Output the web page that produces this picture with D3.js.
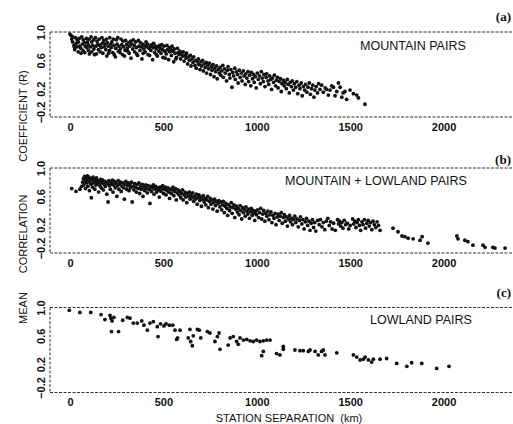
<!DOCTYPE html>
<html>
<head>
<meta charset="utf-8">
<script src="https://cdn.jsdelivr.net/npm/d3@7"></script>
<style>
    body { margin: 0; background: #fff; }
    svg { display: block; }
    text { font-family: "Liberation Sans", Arial, Helvetica, sans-serif; fill: #111; }
    .tick text { font-size: 11px; font-weight: bold; }
    .title { font-size: 12.5px; }
    .letter { font-family: "Liberation Serif", "Times New Roman", serif; font-size: 13px; font-weight: bold; }
    .axis-title { font-size: 11px; }
</style>
</head>
<body>
<div id="container"></div>
<script>
//-----------------------------DATA-----------------------------//
// station separation (km), mean correlation coefficient (R)
const mountainPairs = [
    [0,0.97],[6,0.95],[9,0.90],[14,0.86],[15,0.93],[21,0.81],[24,0.78],[25,0.75],[30,0.92],[33,0.84],
    [37,0.79],[38,0.89],[44,0.72],[45,0.86],[49,0.91],[52,0.80],[58,0.77],[59,0.70],[63,0.93],[66,0.83],
    [70,0.74],[71,0.89],[77,0.85],[79,0.71],[82,0.80],[88,0.91],[90,0.78],[93,0.86],[97,0.82],[99,0.74],
    [103,0.90],[104,0.69],[109,0.79],[113,0.93],[116,0.86],[117,0.72],[121,0.81],[127,0.89],[128,0.76],[131,0.68],
    [136,0.92],[139,0.80],[141,0.69],[145,0.87],[149,0.83],[152,0.75],[156,0.90],[160,0.81],[161,0.72],[167,0.78],
    [171,0.92],[173,0.84],[176,0.70],[181,0.88],[183,0.79],[188,0.83],[192,0.75],[195,0.90],[197,0.66],[199,0.85],
    [204,0.80],[207,0.70],[211,0.74],[213,0.92],[218,0.83],[221,0.78],[224,0.86],[229,0.71],[232,0.90],[236,0.81],
    [237,0.68],[243,0.65],[245,0.77],[248,0.89],[252,0.83],[256,0.92],[259,0.73],[261,0.80],[267,0.71],[270,0.76],
    [273,0.90],[277,0.82],[281,0.68],[284,0.87],[287,0.79],[292,0.66],[295,0.74],[298,0.88],[302,0.82],[306,0.77],
    [309,0.73],[314,0.85],[317,0.70],[319,0.80],[325,0.87],[327,0.63],[331,0.83],[336,0.76],[339,0.89],[344,0.81],
    [346,0.72],[351,0.86],[355,0.78],[357,0.69],[362,0.67],[366,0.88],[369,0.80],[374,0.74],[377,0.85],[381,0.79],
    [385,0.62],[388,0.83],[392,0.70],[395,0.76],[399,0.81],[403,0.72],[407,0.86],[410,0.79],[416,0.83],[418,0.68],
    [423,0.77],[426,0.67],[431,0.80],[433,0.74],[438,0.82],[442,0.61],[445,0.78],[448,0.84],[453,0.71],[457,0.80],
    [461,0.76],[463,0.68],[468,0.66],[472,0.79],[476,0.73],[479,0.81],[484,0.77],[487,0.70],[491,0.82],[496,0.75],
    [498,0.64],[503,0.80],[508,0.73],[510,0.63],[515,0.69],[519,0.81],[522,0.75],[528,0.61],[531,0.78],[534,0.72],
    [539,0.76],[543,0.67],[546,0.80],[551,0.73],[555,0.58],[558,0.76],[563,0.70],[567,0.62],[570,0.64],[575,0.77],
    [579,0.71],[584,0.68],[588,0.73],[592,0.62],[597,0.70],[603,0.66],[606,0.72],[611,0.59],[616,0.67],[621,0.63],
    [624,0.70],[630,0.55],[634,0.65],[639,0.60],[644,0.67],[648,0.52],[653,0.62],[658,0.57],[662,0.65],[669,0.53],
    [673,0.60],[676,0.49],[682,0.58],[687,0.62],[690,0.54],[696,0.47],[701,0.58],[704,0.52],[710,0.60],[714,0.45],
    [718,0.55],[724,0.50],[729,0.57],[731,0.42],[738,0.53],[742,0.48],[746,0.56],[752,0.40],[757,0.51],[760,0.46],
    [766,0.54],[771,0.37],[774,0.49],[780,0.44],[785,0.52],[788,0.34],[794,0.47],[799,0.42],[804,0.50],[807,0.39],
    [813,0.45],[818,0.53],[821,0.36],[827,0.48],[831,0.42],[838,0.31],[842,0.46],[846,0.51],[853,0.40],[856,0.35],
    [861,0.47],[867,0.22],[871,0.43],[876,0.38],[882,0.49],[885,0.33],[891,0.44],[897,0.40],[900,0.28],[906,0.46],
    [911,0.36],[917,0.42],[921,0.31],[928,0.45],[932,0.38],[938,0.26],[941,0.41],[947,0.35],[953,0.44],[956,0.30],
    [962,0.39],[968,0.24],[971,0.43],[977,0.34],[983,0.40],[986,0.29],[992,0.37],[997,0.21],[1003,0.42],[1008,0.33],
    [1014,0.38],[1019,0.27],[1024,0.44],[1029,0.35],[1035,0.30],[1038,0.40],[1044,0.23],[1050,0.36],[1053,0.41],[1060,0.31],
    [1064,0.26],[1069,0.38],[1075,0.33],[1079,0.19],[1084,0.35],[1090,0.29],[1094,0.39],[1101,0.24],[1105,0.32],[1111,0.36],
    [1114,0.21],[1120,0.30],[1126,0.34],[1131,0.16],[1135,0.27],[1142,0.32],[1147,0.24],[1152,0.29],[1158,0.20],[1163,0.33],
    [1168,0.26],[1174,0.14],[1179,0.29],[1185,0.23],[1190,0.31],[1196,0.18],[1201,0.27],[1208,0.22],[1214,0.30],[1219,0.13],
    [1226,0.25],[1231,0.20],[1238,0.28],[1243,0.10],[1249,0.23],[1256,0.18],[1261,0.26],[1268,0.15],[1274,0.22],[1281,0.28],
    [1287,0.12],[1293,0.20],[1300,0.25],[1306,0.08],[1311,0.18],[1318,0.23],[1325,0.14],[1331,0.27],[1338,0.19],[1347,0.25],
    [1356,0.15],[1366,0.21],[1374,0.19],[1383,0.11],[1392,0.18],[1401,0.24],[1410,0.22],[1419,0.10],[1428,0.16],[1437,0.28],
    [1446,0.22],[1455,0.08],[1462,0.14],[1472,0.16],[1481,0.05],[1499,0.18],[1517,0.13],[1535,0.11],[1544,0.07],[1579,-0.02]
];

const mixedPairs = [
    [9,0.71],[32,0.67],[53,0.70],[62,0.74],[68,0.80],[72,0.85],[74,0.76],[78,0.88],[81,0.82],[83,0.71],
    [87,0.86],[89,0.79],[93,0.89],[95,0.74],[97,0.83],[101,0.87],[104,0.68],[106,0.80],[109,0.85],[112,0.77],
    [114,0.58],[118,0.83],[121,0.73],[123,0.87],[127,0.79],[130,0.84],[133,0.70],[136,0.81],[139,0.76],[142,0.86],
    [146,0.78],[149,0.82],[153,0.66],[157,0.80],[160,0.75],[164,0.84],[167,0.72],[171,0.79],[175,0.83],[178,0.69],
    [182,0.77],[186,0.81],[189,0.74],[193,0.80],[197,0.63],[201,0.78],[204,0.52],[208,0.82],[211,0.75],[216,0.70],
    [219,0.80],[223,0.77],[227,0.83],[230,0.66],[234,0.76],[239,0.81],[242,0.72],[247,0.78],[251,0.60],[254,0.75],
    [258,0.82],[262,0.70],[266,0.77],[271,0.80],[274,0.67],[279,0.74],[283,0.79],[287,0.72],[291,0.56],[295,0.77],
    [299,0.81],[304,0.70],[307,0.75],[312,0.79],[316,0.68],[321,0.76],[324,0.72],[329,0.80],[333,0.52],[337,0.74],
    [342,0.69],[346,0.78],[351,0.73],[355,0.66],[360,0.77],[364,0.71],[369,0.79],[373,0.64],[378,0.74],[382,0.70],
    [387,0.77],[391,0.60],[396,0.73],[400,0.68],[405,0.76],[409,0.71],[414,0.65],[418,0.75],[423,0.70],[428,0.50],
    [432,0.74],[436,0.67],[441,0.72],[446,0.76],[450,0.63],[455,0.70],[459,0.74],[464,0.66],[468,0.72],[473,0.69],
    [478,0.59],[482,0.73],[487,0.67],[491,0.71],[496,0.75],[501,0.64],[505,0.70],[510,0.73],[514,0.62],[519,0.68],
    [524,0.72],[528,0.66],[533,0.57],[537,0.70],[542,0.64],[547,0.69],[551,0.73],[556,0.61],[560,0.67],[565,0.71],
    [569,0.55],[574,0.65],[579,0.69],[583,0.62],[588,0.67],[593,0.58],[597,0.64],[602,0.69],[606,0.55],[611,0.62],
    [616,0.66],[620,0.59],[625,0.51],[629,0.64],[634,0.60],[639,0.66],[643,0.56],[648,0.62],[653,0.58],[657,0.65],
    [662,0.53],[667,0.60],[671,0.56],[676,0.63],[681,0.49],[685,0.58],[690,0.62],[695,0.54],[699,0.59],[704,0.46],
    [709,0.56],[713,0.61],[718,0.52],[723,0.57],[727,0.48],[732,0.55],[737,0.60],[741,0.44],[746,0.53],[751,0.57],
    [755,0.49],[760,0.55],[765,0.42],[769,0.51],[774,0.56],[779,0.47],[783,0.53],[788,0.39],[793,0.50],[797,0.54],
    [802,0.45],[807,0.52],[812,0.41],[816,0.48],[821,0.53],[826,0.37],[830,0.46],[835,0.50],[840,0.43],[844,0.33],
    [849,0.48],[854,0.40],[858,0.45],[863,0.51],[868,0.36],[872,0.44],[877,0.48],[882,0.30],[886,0.42],[891,0.46],
    [896,0.38],[900,0.43],[905,0.34],[910,0.47],[914,0.40],[919,0.28],[924,0.44],[928,0.37],[933,0.42],[938,0.32],
    [942,0.45],[947,0.39],[952,0.35],[956,0.42],[961,0.29],[966,0.38],[970,0.43],[975,0.33],[980,0.40],[984,0.36],
    [989,0.26],[994,0.39],[998,0.34],[1004,0.41],[1010,0.30],[1015,0.37],[1021,0.43],[1026,0.28],[1032,0.35],[1037,0.40],
    [1043,0.25],[1048,0.36],[1054,0.32],[1059,0.39],[1065,0.27],[1070,0.34],[1076,0.38],[1081,0.23],[1087,0.33],[1092,0.29],
    [1098,0.36],[1103,0.20],[1109,0.31],[1114,0.35],[1120,0.26],[1125,0.32],[1131,0.37],[1136,0.22],[1142,0.30],[1147,0.34],
    [1153,0.25],[1158,0.31],[1164,0.18],[1169,0.28],[1175,0.33],[1180,0.24],[1186,0.29],[1191,0.20],[1197,0.27],[1203,0.32],
    [1209,0.23],[1215,0.28],[1222,0.17],[1228,0.26],[1234,0.31],[1241,0.21],[1247,0.27],[1253,0.14],[1260,0.24],[1266,0.29],
    [1272,0.19],[1279,0.25],[1285,0.12],[1291,0.22],[1298,0.27],[1304,0.16],[1310,0.23],[1316,0.11],[1326,0.26],[1334,0.20],
    [1341,0.27],[1349,0.17],[1356,0.23],[1364,0.13],[1372,0.25],[1380,0.29],[1388,0.19],[1395,0.24],[1403,0.14],[1411,0.22],
    [1420,0.12],[1432,0.27],[1438,0.21],[1443,0.25],[1449,0.18],[1455,0.23],[1461,0.15],[1468,0.26],[1476,0.20],[1484,0.22],
    [1492,0.14],[1500,0.19],[1513,0.28],[1519,0.21],[1526,0.25],[1531,0.16],[1537,0.23],[1544,0.27],[1550,0.19],[1556,0.12],
    [1563,0.24],[1569,0.20],[1576,0.27],[1582,0.15],[1589,0.22],[1596,0.26],[1602,0.18],[1609,0.23],[1616,0.13],[1622,0.25],
    [1629,0.20],[1637,0.16],[1644,0.24],[1652,0.19],[1660,0.12],[1729,0.15],[1756,0.10],[1777,0.04],[1793,0.03],[1810,0.01],
    [1837,0.00],[1874,-0.02],[1885,0.03],[1916,-0.06],[2071,0.04],[2077,0.00],[2114,-0.02],[2130,-0.04],[2157,-0.09],[2211,-0.09],
    [2222,-0.12],[2264,-0.12],[2275,-0.13],[2329,-0.13]
];

const lowlandPairs = [
    [-4,0.96],[53,0.93],[111,0.93],[166,0.90],[187,0.83],[214,0.89],[219,0.85],[225,0.81],[222,0.66],[235,0.86],
    [260,0.66],[282,0.82],[307,0.86],[321,0.85],[339,0.78],[360,0.78],[384,0.81],[396,0.75],[414,0.68],[428,0.78],
    [446,0.80],[467,0.73],[471,0.59],[485,0.77],[503,0.74],[514,0.77],[532,0.75],[550,0.75],[562,0.68],[571,0.55],
    [576,0.57],[589,0.68],[633,0.57],[642,0.69],[646,0.52],[655,0.46],[660,0.60],[682,0.69],[692,0.68],[700,0.57],
    [735,0.66],[749,0.64],[776,0.52],[789,0.59],[798,0.64],[803,0.41],[847,0.47],[857,0.57],[874,0.59],[892,0.52],
    [901,0.48],[910,0.57],[928,0.54],[946,0.55],[964,0.53],[981,0.52],[999,0.54],[1017,0.52],[1026,0.32],[1035,0.53],
    [1035,0.38],[1053,0.54],[1071,0.54],[1106,0.35],[1124,0.33],[1142,0.45],[1142,0.41],[1204,0.40],[1231,0.39],[1249,0.39],
    [1276,0.38],[1285,0.40],[1312,0.38],[1329,0.33],[1347,0.38],[1356,0.40],[1365,0.33],[1428,0.36],[1517,0.33],[1535,0.30],
    [1553,0.26],[1570,0.27],[1580,0.30],[1597,0.26],[1615,0.23],[1624,0.27],[1660,0.27],[1695,0.28],[1749,0.21],[1803,0.17],
    [1829,0.22],[1883,0.21],[1963,0.14],[2029,0.17]
];

const xTicks = [0, 500, 1000, 1500, 2000];
const yTicks = [-0.2, 0.2, 0.6, 1.0];
const panelTitles = ["MOUNTAIN PAIRS", "MOUNTAIN + LOWLAND PAIRS", "LOWLAND PAIRS"];
const panelLetters = ["(a)", "(b)", "(c)"];
const panelSeries = [mountainPairs, mixedPairs, lowlandPairs];

//------------------------------SVG-----------------------------//
const width = 513;
const height = 424;
const left = 50;

// vertical placement of each panel
const panels = [
    { top: 32, bottom: 117, titleX: 360, titleY: 50, letterY: 21 },
    { top: 168, bottom: 253, titleX: 285, titleY: 185, letterY: 164 },
    { top: 307.5, bottom: 392.5, titleX: 370, titleY: 324, letterY: 297 }
];

const svg = d3.select("div#container").append("svg")
    .attr("width", width)
    .attr("height", height);

//----------------------------SCALES----------------------------//
const xScale = d3.scaleLinear().domain([0, 2000]).range([70, 443.6]);

const dash = "3,1.5";

panels.forEach(function (p, i) {
    const yScale = d3.scaleLinear().domain([-0.2, 1.0]).range([p.bottom, p.top]);
    const g = svg.append("g").attr("class", "panel");

    // frame: dashed top, bottom and left lines
    g.append("line")
        .attr("x1", left).attr("x2", width)
        .attr("y1", p.top).attr("y2", p.top)
        .attr("stroke", "#333").attr("stroke-dasharray", dash);
    g.append("line")
        .attr("x1", left).attr("x2", width)
        .attr("y1", p.bottom).attr("y2", p.bottom)
        .attr("stroke", "#333").attr("stroke-dasharray", dash);
    g.append("line")
        .attr("x1", left).attr("x2", left)
        .attr("y1", p.top).attr("y2", p.bottom)
        .attr("stroke", "#333").attr("stroke-dasharray", dash);

    // x axis (labels only)
    const xaxis = d3.axisBottom(xScale)
        .tickValues(xTicks)
        .tickSize(0)
        .tickPadding(6)
        .tickFormat(d3.format("d"));
    const gx = g.append("g")
        .attr("class", "axis")
        .attr("transform", "translate(0," + p.bottom + ")")
        .call(xaxis);
    gx.select(".domain").remove();
    gx.selectAll(".tick text").attr("font-family", null).attr("font-size", null);

    // y axis, rotated labels
    const yaxis = d3.axisLeft(yScale)
        .tickValues(yTicks)
        .tickSize(0)
        .tickFormat(d3.format(".1f"));
    const gy = g.append("g")
        .attr("class", "axis")
        .attr("transform", "translate(" + left + ",0)")
        .call(yaxis);
    gy.select(".domain").remove();
    gy.selectAll(".tick text")
        .attr("font-family", null).attr("font-size", null)
        .attr("transform", "rotate(-90)")
        .attr("text-anchor", "middle")
        .attr("x", function (d) { return d < 0 ? 5 : 0; })
        .attr("y", -5)
        .attr("dy", 0);

    // points
    g.append("g")
        .selectAll("circle")
        .data(panelSeries[i])
        .enter()
        .append("circle")
        .attr("cx", function (d) { return xScale(d[0]); })
        .attr("cy", function (d) { return yScale(d[1]); })
        .attr("r", 1.9)
        .attr("fill", "#111");

    g.append("text")
        .attr("class", "title")
        .attr("x", p.titleX)
        .attr("y", p.titleY)
        .text(panelTitles[i]);

    g.append("text")
        .attr("class", "letter")
        .attr("x", 511)
        .attr("y", p.letterY)
        .attr("text-anchor", "end")
        .text(panelLetters[i]);
});

//-------------------------AXIS TITLES--------------------------//
const yTitles = [["COEFFICIENT (R)", 116], ["CORRELATION", 234], ["MEAN", 308]];
svg.selectAll(".ytitle")
    .data(yTitles)
    .enter()
    .append("text")
    .attr("class", "axis-title")
    .attr("text-anchor", "middle")
    .attr("transform", function (d) { return "translate(27," + d[1] + ") rotate(-90)"; })
    .text(function (d) { return d[0]; });

svg.append("text")
    .attr("class", "axis-title")
    .attr("x", 289)
    .attr("y", 422)
    .attr("text-anchor", "middle")
    .style("white-space", "pre")
    .text("STATION SEPARATION  (km)");
</script>
</body>
</html>
